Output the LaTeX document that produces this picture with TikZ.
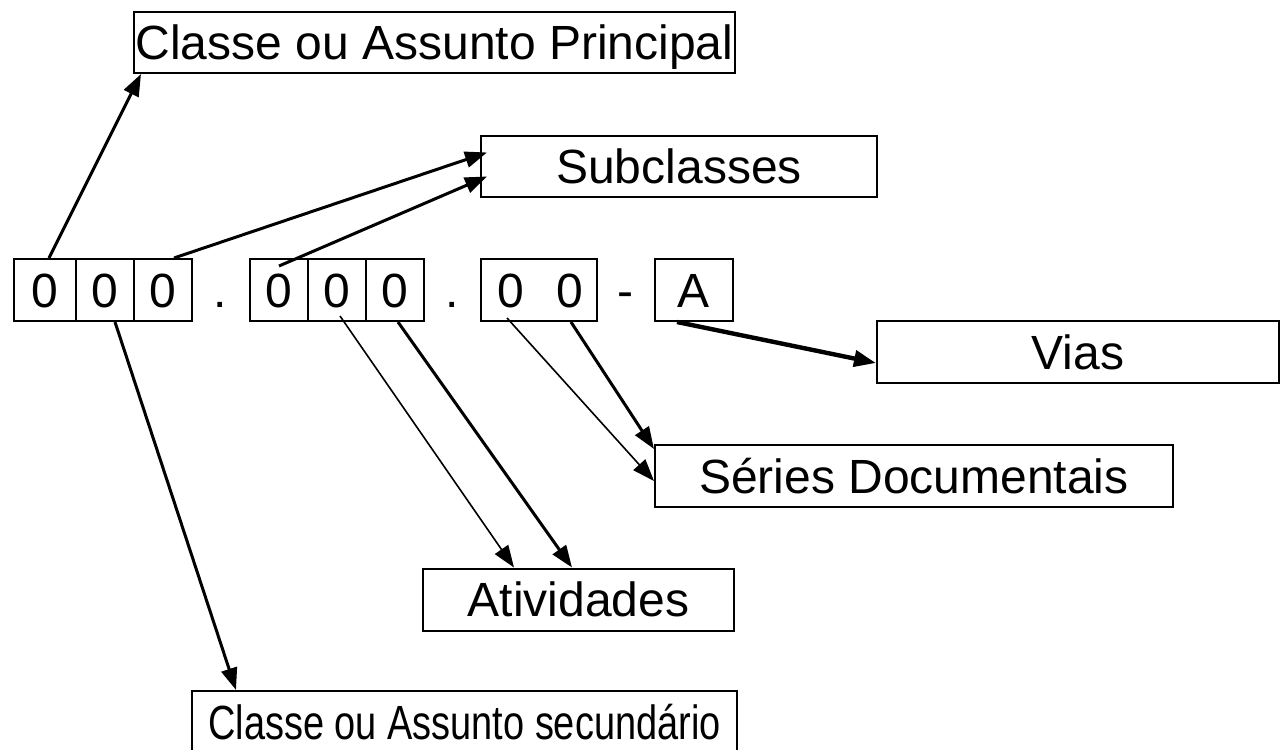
\documentclass[tikz,border=0pt]{standalone}
\usepackage{fontspec}
\setmainfont{Liberation Sans}
\usetikzlibrary{arrows.meta}

\begin{document}
\begin{tikzpicture}[x=0.5pt, y=-0.5pt,
  font=\fontsize{24}{28}\selectfont,
  caixa/.style={draw, line width=1pt, inner sep=0pt, text height=17.2pt,
    text depth=0pt, minimum height=31pt},
  celula/.style={caixa, minimum width=29pt},
  sinal/.style={inner sep=0pt, text height=17.2pt, text depth=0pt},
  seta/.style={-{Triangle[length=11pt, width=8pt]}, line width=1.5pt},
  setafina/.style={seta, line width=0.8pt},
  setagrossa/.style={seta, line width=2.2pt}]
  \useasboundingbox (0,0) rectangle (1281,750);

  \node[caixa, minimum width=300.5pt, minimum height=30.5pt] (principal) %
    at (434.5,42.5) {Classe ou Assunto Principal};
  \node[caixa, minimum width=198pt, minimum height=30.5pt] (sub) %
    at (679,166.5) {Subclasses};
  \node[caixa, minimum width=201pt] (vias) at (1078,352) {Vias};
  \node[caixa, minimum width=259pt] (series) at (914,476) {Séries Documentais};
  \node[caixa, minimum width=155.5pt] (ativ) at (578.5,599.5) {Atividades};
  \node[caixa, minimum width=272.5pt] (sec) %
    at (464.5,722) {\scalebox{0.79}[1]{Classe ou Assunto secundário}};

  \node[celula, minimum width=31pt] (a1) at (45,290) {0};
  \node[celula] (a2) at (105,290) {0};
  \node[celula] (a3) at (163,290) {0};
  \node[sinal] (ponto1) at (220,290) {.};
  \node[celula] (b1) at (279,290) {0};
  \node[celula] (b2) at (337,290) {0};
  \node[celula] (b3) at (395,290) {0};
  \node[sinal] (ponto2) at (452,290) {.};
  \node[caixa, minimum width=58pt] (c) at (539,290) {};
  \node[sinal] (c1) at (511,290) {0};
  \node[sinal] (c2) at (570,290) {0};
  \node[sinal] (traco) at (625,290) {-};
  \node[caixa, minimum width=39pt] (d) at (694,290) {A};

  \draw[seta] ([xshift=2pt]a1.north) -- ([xshift=4pt]principal.south west);
  \draw[seta] ([xshift=5.5pt]a3.north) -- ([xshift=3.5pt,yshift=7pt]sub.west);
  \draw[seta] ([yshift=-4pt]b1.north) -- ([xshift=3.5pt,yshift=-5pt]sub.west);
  \draw[seta] ([xshift=5pt]a2.south) -- ([xshift=22.5pt]sec.north west);
  \draw[setafina] ([xshift=1.5pt,yshift=3pt]b2.south) -- ([xshift=46pt]ativ.north west);
  \draw[seta] ([xshift=1.5pt]b3.south) -- ([xshift=75pt]ativ.north west);
  \draw[setafina] ([xshift=13.5pt,yshift=2pt]c.south west) -- ([yshift=-2.5pt]series.west);
  \draw[seta] ([xshift=16pt]c.south) -- ([yshift=-2.5pt]series.north west);
  \draw[setagrossa] ([xshift=-8.5pt]d.south) -- ([yshift=-5.5pt]vias.west);
\end{tikzpicture}
\end{document}
